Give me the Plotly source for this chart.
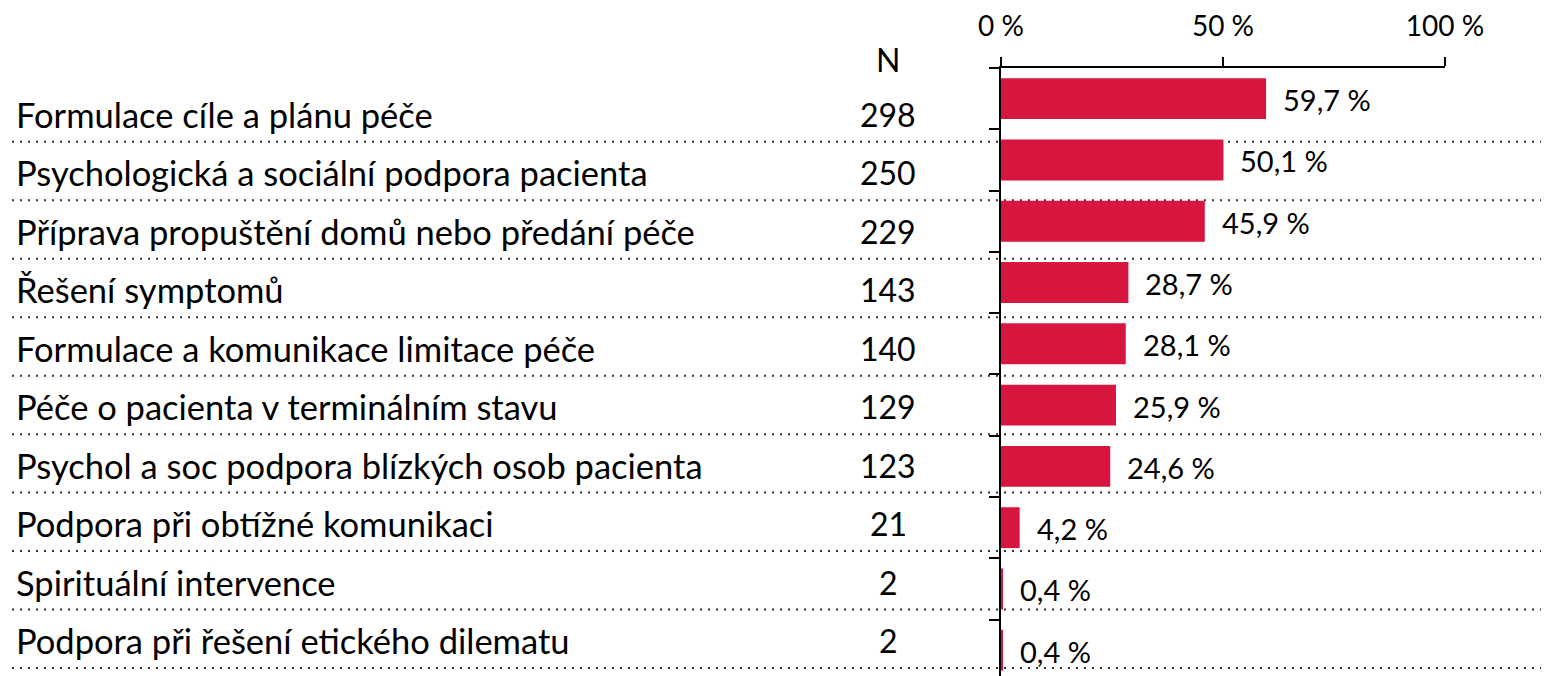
import plotly.graph_objects as go

categories = [
    "Formulace cíle a plánu péče",
    "Psychologická a sociální podpora pacienta",
    "Příprava propuštění domů nebo předání péče",
    "Řešení symptomů",
    "Formulace a komunikace limitace péče",
    "Péče o pacienta v terminálním stavu",
    "Psychol a soc podpora blízkých osob pacienta",
    "Podpora při obtížné komunikaci",
    "Spirituální intervence",
    "Podpora při řešení etického dilematu",
]
counts = [298, 250, 229, 143, 140, 129, 123, 21, 2, 2]
percents = [59.7, 50.1, 45.9, 28.7, 28.1, 25.9, 24.6, 4.2, 0.4, 0.4]
tick_values = [0, 50, 100]
tick_labels = ["0 %", "50 %", "100 %"]
n_header = "N"

FONT = "Lato"
RED = "#D6163F"
# page body has an 8px margin; figure sized to fit the 1549x676 window
OFF = 8
W, H = 1549 - OFF, 676 - OFF
L, R, T, B = 1001 - OFF, 104, 66 - OFF, 0
pw = W - L - R
ph = H - T - B


def px_to_paper_x(px):
    return (px - OFF - L) / pw


def px_to_paper_y(py):
    return 1 - (py - OFF - T) / ph


fig = go.Figure()
fig.add_trace(go.Bar(
    x=percents, y=categories, orientation="h",
    marker=dict(color=RED, line=dict(width=0)),
    hoverinfo="skip", showlegend=False,
))

annotations = []
for c, p in zip(categories, percents):
    annotations.append(dict(
        x=p, y=c, xref="x", yref="y", xanchor="left", yanchor="middle",
        text=f"{p:.1f}".replace(".", ",") + " %", showarrow=False,
        xshift=15, yshift=-1, font=dict(family=FONT, size=29, color="#000"),
    ))

for c, n in zip(categories, counts):
    annotations.append(dict(
        x=px_to_paper_x(14), y=c, xref="paper", yref="y2",
        xanchor="left", yanchor="middle", text=c, showarrow=False,
        yshift=-2, font=dict(family=FONT, size=34.5, color="#000"),
    ))
    annotations.append(dict(
        x=px_to_paper_x(888), y=c, xref="paper", yref="y2",
        xanchor="center", yanchor="middle", text=str(n), showarrow=False,
        yshift=-2, font=dict(family=FONT, size=32, color="#000"),
    ))
annotations.append(dict(
    x=px_to_paper_x(888), y=px_to_paper_y(57), xref="paper", yref="paper",
    xanchor="center", yanchor="middle", text=n_header, showarrow=False,
    font=dict(family=FONT, size=32, color="#000"),
))

shapes = []
for i in range(len(categories)):
    shapes.append(dict(
        type="line", xref="paper", yref="y2",
        x0=px_to_paper_x(12), x1=px_to_paper_x(1549), y0=i + 0.5, y1=i + 0.5,
        line=dict(color="#333", width=2, dash="2px,6px"), layer="below",
    ))

fig.update_layout(
    width=W, height=H,
    margin=dict(l=L, r=R, t=T, b=B, pad=0),
    paper_bgcolor="white", plot_bgcolor="white",
    bargap=0.333,
    font=dict(family=FONT, size=28, color="#000"),
    xaxis=dict(
        side="top", range=[0, 100], tickvals=tick_values, ticktext=tick_labels,
        ticks="outside", ticklen=9, tickwidth=2, tickcolor="#000",
        showline=True, linecolor="#000", linewidth=2,
        showgrid=False, zeroline=False, fixedrange=True,
        tickfont=dict(family=FONT, size=28, color="#000"),
        ticklabelstandoff=10,
    ),
    yaxis=dict(
        type="category", categoryorder="array", categoryarray=categories,
        range=[9.42, -0.5], showticklabels=False,
        ticks="outside", ticklen=10, tickwidth=2, tickcolor="#000",
        tickson="boundaries",
        showline=True, linecolor="#000", linewidth=2,
        showgrid=False, zeroline=False, fixedrange=True,
    ),
    yaxis2=dict(
        type="category", categoryorder="array", categoryarray=categories,
        overlaying="y", range=[9.636, -0.761], visible=False,
        fixedrange=True,
    ),
    annotations=annotations,
    shapes=shapes,
)
fig.add_trace(go.Scatter(
    x=[None] * len(categories), y=categories, yaxis="y2",
    mode="markers", showlegend=False, hoverinfo="skip",
))

fig.write_html("out.html")
